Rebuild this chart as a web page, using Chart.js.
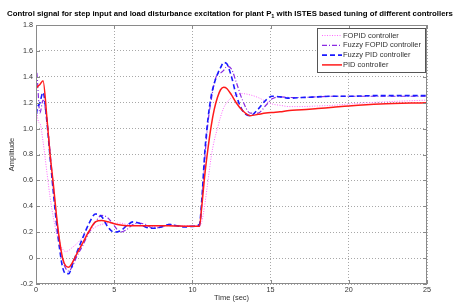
<!DOCTYPE html>
<html>
<head>
<meta charset="utf-8">
<script src="https://cdn.jsdelivr.net/npm/chart.js@4.4.1/dist/chart.umd.min.js"></script>
<style>
  html, body { margin: 0; padding: 0; background: #fff; }
  #wrap { width: 454px; height: 303px; }
</style>
</head>
<body>
<div id="wrap"><canvas id="chart"></canvas></div>
<script>
'use strict';

// title is split around the subscript of P1
const titleParts = ['Control signal for step input and load disturbance excitation for plant P', '1', ' with ISTES based tuning of different controllers'];
const seriesNames = ['FOPID controller', 'Fuzzy FOPID controller', 'Fuzzy PID controller', 'PID controller'];

// time axis (sec)
const time = [
    0, 0.02, 0.25, 0.45, 0.7, 0.9, 1.1, 1.3, 1.5, 1.7, 1.9,
    2.1, 2.3, 2.6, 3.0, 3.4, 3.8, 4.2, 4.6, 5.0,
    5.4, 5.8, 6.2, 6.6, 7.0, 7.5, 8.0, 8.5, 9.0, 9.5, 10.0, 10.45,
    10.6, 10.8, 11.0, 11.2, 11.4, 11.6, 11.8, 12.0, 12.2, 12.5, 12.8, 13.2,
    13.7, 14.2, 14.7, 15.1, 15.6, 16.2, 17, 18, 19, 20, 22, 25
];

const fopid = [
    1.8, 1.2, 1.04, 0.9, 0.66, 0.47, 0.32, 0.20, 0.12, 0.07, 0.05,
    0.06, 0.08, 0.11, 0.16, 0.20, 0.24, 0.26, 0.27, 0.27,
    0.27, 0.26, 0.255, 0.25, 0.245, 0.245, 0.25, 0.25, 0.25, 0.25, 0.25, 0.25,
    0.28, 0.42, 0.60, 0.78, 0.91, 1.00, 1.09, 1.16, 1.20, 1.24, 1.26, 1.27,
    1.26, 1.24, 1.21, 1.19, 1.18, 1.17, 1.17, 1.175, 1.18, 1.19, 1.205, 1.22
];

const fuzzyFopid = [
    0.7, 1.45, 1.12, 1.22, 1.06, 0.82, 0.56, 0.32, 0.13, -0.01, -0.08,
    -0.10, -0.07, 0.01, 0.10, 0.20, 0.28, 0.33, 0.31, 0.25,
    0.20, 0.22, 0.26, 0.27, 0.26, 0.23, 0.24, 0.26, 0.25, 0.245, 0.245, 0.245,
    0.42, 0.78, 1.05, 1.22, 1.35, 1.42, 1.43, 1.45, 1.48, 1.46, 1.36, 1.22,
    1.12, 1.12, 1.18, 1.23, 1.245, 1.24, 1.24, 1.245, 1.25, 1.25, 1.25, 1.25
];

const fuzzyPid = [
    1.05, 1.1, 1.2, 1.28, 1.05, 0.78, 0.52, 0.28, 0.08, -0.07, -0.12,
    -0.12, -0.06, 0.04, 0.16, 0.27, 0.34, 0.32, 0.24, 0.20,
    0.21, 0.25, 0.28, 0.27, 0.24, 0.23, 0.24, 0.26, 0.25, 0.24, 0.245, 0.26,
    0.45, 0.83, 1.08, 1.25, 1.35, 1.42, 1.47, 1.51, 1.50, 1.40, 1.26, 1.14,
    1.10, 1.15, 1.22, 1.25, 1.245, 1.235, 1.24, 1.245, 1.25, 1.25, 1.255, 1.255
];

const pid = [
    1.30, 1.31, 1.34, 1.37, 1.08, 0.80, 0.58, 0.34, 0.14, 0.00, -0.06,
    -0.07, -0.04, 0.03, 0.12, 0.21, 0.28, 0.29, 0.28, 0.265,
    0.255, 0.25, 0.25, 0.25, 0.25, 0.25, 0.25, 0.25, 0.248, 0.246, 0.245, 0.245,
    0.40, 0.65, 0.85, 1.02, 1.15, 1.24, 1.30, 1.32, 1.31, 1.26, 1.20, 1.14,
    1.10, 1.11, 1.12, 1.125, 1.13, 1.14, 1.145, 1.155, 1.165, 1.175, 1.19, 1.20
];

const xTicks = { min: 0, max: 25, step: 5 };
const yTicks = { min: -0.2, max: 1.8, step: 0.2 };

const FONT = "'Liberation Sans', Arial, sans-serif";

const toPoints = (vals) => vals.map((v, i) => ({ x: time[i], y: v }));

// frame, inward tick marks, title and the in-plot legend (matlab style)
const framePlugin = {
    id: 'frame',
    afterDraw(chart) {
        const { ctx, chartArea: a, scales: { x, y } } = chart;
        ctx.save();
        ctx.strokeStyle = '#8a8a8a';
        ctx.lineWidth = 1;
        ctx.setLineDash([]);
        ctx.strokeRect(a.left + 0.5, a.top + 0.5, a.width - 1, a.height - 1);

        ctx.beginPath();
        x.ticks.forEach(t => {
            const px = Math.round(x.getPixelForValue(t.value)) + 0.5;
            ctx.moveTo(px, a.bottom); ctx.lineTo(px, a.bottom - 4);
            ctx.moveTo(px, a.top); ctx.lineTo(px, a.top + 4);
        });
        y.ticks.forEach(t => {
            const py = Math.round(y.getPixelForValue(t.value)) + 0.5;
            ctx.moveTo(a.left, py); ctx.lineTo(a.left + 4, py);
            ctx.moveTo(a.right, py); ctx.lineTo(a.right - 4, py);
        });
        ctx.stroke();

        // title with subscript
        const big = 'bold 7.8px ' + FONT, small = 'bold 5.6px ' + FONT;
        ctx.fillStyle = '#000';
        ctx.textBaseline = 'alphabetic';
        ctx.textAlign = 'left';
        ctx.font = big;
        const w0 = ctx.measureText(titleParts[0]).width;
        const w2 = ctx.measureText(titleParts[2]).width;
        ctx.font = small;
        const w1 = ctx.measureText(titleParts[1]).width;
        let tx = 230 - (w0 + w1 + w2) / 2;
        const ty = 16;
        ctx.font = big;
        ctx.fillText(titleParts[0], tx, ty);
        tx += w0;
        ctx.font = small;
        ctx.fillText(titleParts[1], tx, ty + 2);
        tx += w1;
        ctx.font = big;
        ctx.fillText(titleParts[2], tx, ty);

        // legend box
        const bx = a.right - 110, by = a.top + 3, bw = 108, bh = 44;
        ctx.fillStyle = '#fff';
        ctx.fillRect(bx, by, bw, bh);
        ctx.strokeStyle = '#555';
        ctx.strokeRect(bx + 0.5, by + 0.5, bw, bh);

        ctx.font = '7.5px ' + FONT;
        ctx.textBaseline = 'middle';
        chart.data.datasets.forEach((ds, i) => {
            const ly = by + 7.5 + i * 9.8;
            ctx.strokeStyle = ds.borderColor;
            ctx.lineWidth = ds.borderWidth;
            ctx.setLineDash(ds.borderDash || []);
            ctx.beginPath();
            ctx.moveTo(bx + 5, ly);
            ctx.lineTo(bx + 25, ly);
            ctx.stroke();
            ctx.setLineDash([]);
            ctx.fillStyle = '#333';
            ctx.fillText(ds.label, bx + 26, ly);
        });
        ctx.restore();
    }
};

new Chart(document.getElementById('chart'), {
    type: 'line',
    data: {
        datasets: [
            {
                label: seriesNames[0],
                data: toPoints(fopid),
                borderColor: '#ff66ff',
                borderWidth: 1,
                borderDash: [1, 1.5],
                order: 3
            },
            {
                label: seriesNames[1],
                data: toPoints(fuzzyFopid),
                borderColor: '#8a2be2',
                borderWidth: 1.2,
                borderDash: [5, 2, 1, 2],
                order: 2
            },
            {
                label: seriesNames[2],
                data: toPoints(fuzzyPid),
                borderColor: '#1a1aff',
                borderWidth: 1.6,
                borderDash: [5, 3],
                order: 1
            },
            {
                label: seriesNames[3],
                data: toPoints(pid),
                borderColor: '#ff1a1a',
                borderWidth: 1.5,
                order: 0
            }
        ]
    },
    options: {
        responsive: true,
        maintainAspectRatio: false,
        animation: false,
        layout: { padding: { left: 0, right: 27, top: 25, bottom: 0 } },
        elements: {
            point: { radius: 0 },
            line: { fill: false, cubicInterpolationMode: 'monotone' }
        },
        scales: {
            x: {
                type: 'linear',
                min: xTicks.min,
                max: xTicks.max,
                afterFit(scale) { scale.height = 19; },
                ticks: {
                    stepSize: xTicks.step,
                    padding: 2,
                    color: '#333',
                    font: { family: FONT, size: 7.2 }
                },
                grid: { color: '#a8a8a8', drawTicks: false },
                border: { display: false, dash: [1, 2] },
                title: {
                    display: true,
                    text: 'Time (sec)',
                    color: '#333',
                    font: { family: FONT, size: 7.5 },
                    padding: { top: 0, bottom: 1 }
                }
            },
            y: {
                min: yTicks.min,
                max: yTicks.max,
                afterFit(scale) { scale.width = 36; },
                ticks: {
                    stepSize: yTicks.step,
                    padding: 3,
                    color: '#333',
                    font: { family: FONT, size: 7.2 }
                },
                grid: { color: '#a8a8a8', drawTicks: false },
                border: { display: false, dash: [1, 2] },
                title: {
                    display: true,
                    text: 'Amplitude',
                    color: '#333',
                    font: { family: FONT, size: 7.5 },
                    padding: { top: 7, bottom: 0 }
                }
            }
        },
        plugins: {
            legend: { display: false },
            tooltip: { enabled: false },
            title: { display: false }
        }
    },
    plugins: [framePlugin]
});
</script>
</body>
</html>
